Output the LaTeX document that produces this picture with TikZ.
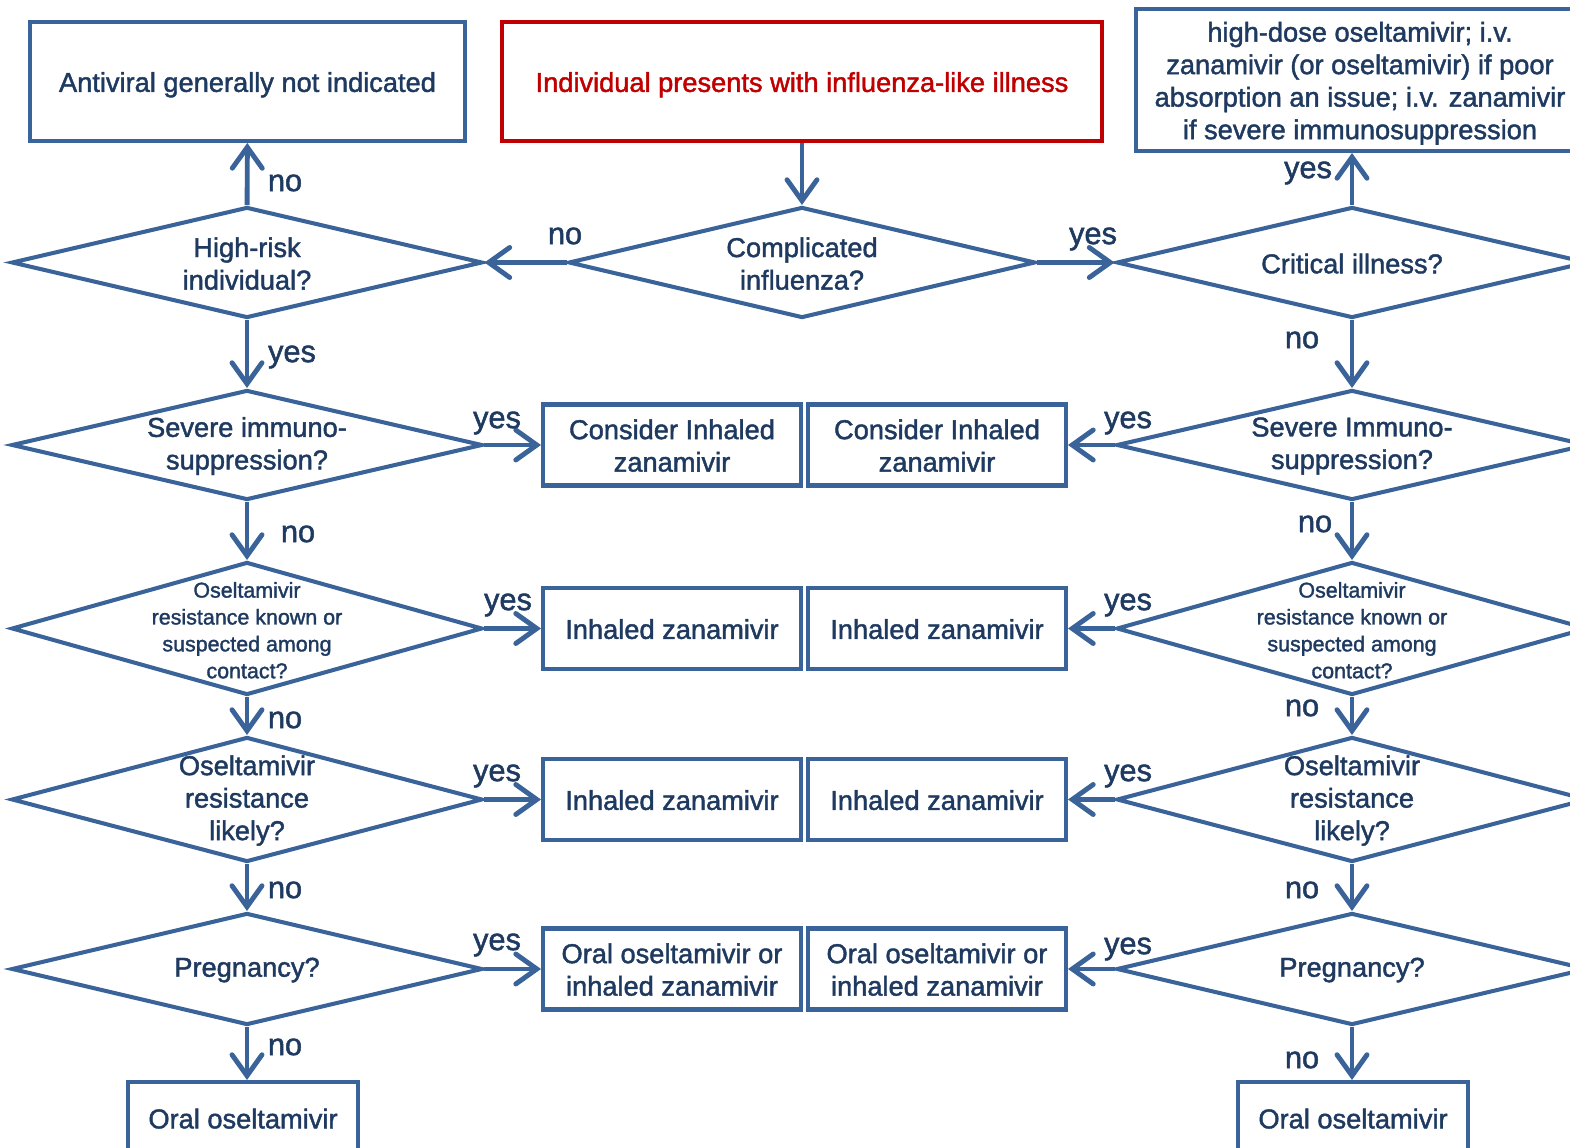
\documentclass[tikz,border=0pt]{standalone}
\usepackage{fontspec}
\setmainfont{Liberation Sans}[FakeBold=1.6]
\usetikzlibrary{shapes.geometric,arrows.meta}

\definecolor{flublue}{HTML}{3A6399}
\definecolor{flutext}{HTML}{1F3A60}
\definecolor{flured}{HTML}{C00000}

% box text sits a little low in its frame
\newcommand{\boxtext}[1]{\raisebox{-2.2pt}[\height][\depth]{\begin{tabular}{@{}c@{}}#1\end{tabular}}}

\begin{document}
\begin{tikzpicture}[
  x=0.02cm, y=-0.02cm,
  box/.style={rectangle, draw=flublue, line width=2.3pt, text=flutext, align=center, inner sep=0pt, font=\fontsize{15.5}{18.5}\selectfont},
  midbox/.style={box, minimum width=5.16cm, minimum height=1.62cm},
  qnode/.style={diamond, draw=flublue, line width=2.3pt, inner sep=0pt, minimum width=9.42cm},
  qtext/.style={text=flutext, align=center, yshift=-0.6pt, font=\fontsize{15.5}{18.5}\selectfont},
  qsmall/.style={text=flutext, align=center, yshift=-1pt, font=\fontsize{12.2}{15.3}\selectfont},
  arr/.style={draw=flublue, line width=2.8pt, -{Straight Barb[length=4.2mm,width=6mm,line cap=round]}},
  lbl/.style={text=flutext, inner sep=0pt, font=\fontsize{17.5}{20}\selectfont}
]
  \useasboundingbox (0,0) rectangle (1570,1148);

  % top row of boxes
  \node[box, minimum width=8.7cm, minimum height=2.38cm] (none) at (247.5,81.5) {\boxtext{Antiviral generally not indicated}};
  \node[box, draw=flured, text=flured, minimum width=12cm, minimum height=2.38cm] (start) at (802,81.5) {\boxtext{Individual presents with influenza-like illness}};
  \node[box, minimum width=8.96cm, minimum height=2.84cm] (severe) at (1360,80) {\boxtext{high-dose oseltamivir; i.v.\\zanamivir (or oseltamivir) if poor\\absorption an issue; i.v. zanamivir\\if severe immunosuppression}};

  % decisions, middle and left column
  \node[qnode, minimum width=9.34cm, minimum height=2.22cm] (cx) at (802,262.5) {};
  \node[qtext] (cxt) at (cx) {Complicated\\influenza?};
  \node[qnode, minimum height=2.22cm] (hr) at (247,262.5) {};
  \node[qtext] (hrt) at (hr) {High-risk\\individual?};
  \node[qnode, minimum height=2.2cm] (siL) at (247,445) {};
  \node[qtext] (siLt) at (siL) {Severe immuno-\\suppression?};
  \node[qnode, minimum height=2.66cm] (kwL) at (247,628.5) {};
  \node[qsmall] (kwLt) at (kwL) {Oseltamivir\\resistance known or\\suspected among\\contact?};
  \node[qnode, minimum height=2.5cm] (lkL) at (247,799.5) {};
  \node[qtext] (lkLt) at (lkL) {Oseltamivir\\resistance\\likely?};
  \node[qnode, minimum height=2.24cm] (pgL) at (247,969) {};
  \node[qtext] (pgLt) at (pgL) {Pregnancy?};

  % decisions, right column
  \node[qnode, minimum height=2.22cm] (ci) at (1352,262.5) {};
  \node[qtext] (cit) at (ci) {Critical illness?};
  \node[qnode, minimum height=2.2cm] (siR) at (1352,445) {};
  \node[qtext] (siRt) at (siR) {Severe Immuno-\\suppression?};
  \node[qnode, minimum height=2.66cm] (kwR) at (1352,628.5) {};
  \node[qsmall] (kwRt) at (kwR) {Oseltamivir\\resistance known or\\suspected among\\contact?};
  \node[qnode, minimum height=2.5cm] (lkR) at (1352,799.5) {};
  \node[qtext] (lkRt) at (lkR) {Oseltamivir\\resistance\\likely?};
  \node[qnode, minimum height=2.24cm] (pgR) at (1352,969) {};
  \node[qtext] (pgRt) at (pgR) {Pregnancy?};

  % treatment boxes in the middle, one pair per row
  \foreach \r/\y/\t in {1/445/{Consider Inhaled\\zanamivir},
                        2/628.5/{Inhaled zanamivir},
                        3/799.5/{Inhaled zanamivir},
                        4/969/{Oral oseltamivir or\\inhaled zanamivir}} {
    \node[midbox] (mL\r) at (672,\y) {\boxtext{\t}};
    \node[midbox] (mR\r) at (937,\y) {\boxtext{\t}};
  }

  % bottom boxes
  \node[box, minimum width=4.6cm, minimum height=1.44cm] (oralL) at (243,1118) {\boxtext{Oral oseltamivir}};
  \node[box, minimum width=4.6cm, minimum height=1.44cm] (oralR) at (1353,1118) {\boxtext{Oral oseltamivir}};

  % connectors
  \draw[arr] (start) -- (cx);
  \draw[arr] (cx) -- (hr);
  \draw[arr] (cx) -- (ci);
  \draw[arr] (hr) -- (none);
  \draw[arr] (ci.north) -- (ci.north |- severe.south);
  \draw[arr] (hr) -- (siL);
  \draw[arr] (siL) -- (kwL);
  \draw[arr] (kwL) -- (lkL);
  \draw[arr] (lkL) -- (pgL);
  \draw[arr] (pgL.south) -- (pgL.south |- oralL.north);
  \draw[arr] (ci) -- (siR);
  \draw[arr] (siR) -- (kwR);
  \draw[arr] (kwR) -- (lkR);
  \draw[arr] (lkR) -- (pgR);
  \draw[arr] (pgR.south) -- (pgR.south |- oralR.north);
  \draw[arr] (siL) -- (mL1);
  \draw[arr] (kwL) -- (mL2);
  \draw[arr] (lkL) -- (mL3);
  \draw[arr] (pgL) -- (mL4);
  \draw[arr] (siR) -- (mR1);
  \draw[arr] (kwR) -- (mR2);
  \draw[arr] (lkR) -- (mR3);
  \draw[arr] (pgR) -- (mR4);

  % yes / no labels
  \node[lbl] (n1) at (285,183) {no};
  \node[lbl] (n2) at (565,236) {no};
  \node[lbl] (y1) at (1093,239) {yes};
  \node[lbl] (y2) at (1308,173) {yes};
  \node[lbl] (y3) at (292,357) {yes};
  \node[lbl] (n3) at (1302,340) {no};
  \node[lbl] (y4) at (497,423) {yes};
  \node[lbl] (y5) at (1128,423) {yes};
  \node[lbl] (n4) at (298,534) {no};
  \node[lbl] (n5) at (1315,524) {no};
  \node[lbl] (y6) at (508,605) {yes};
  \node[lbl] (y7) at (1128,605) {yes};
  \node[lbl] (n6) at (285,720) {no};
  \node[lbl] (n7) at (1302,708) {no};
  \node[lbl] (y8) at (497,776) {yes};
  \node[lbl] (y9) at (1128,776) {yes};
  \node[lbl] (n8) at (285,890) {no};
  \node[lbl] (n9) at (1302,890) {no};
  \node[lbl] (y10) at (497,945) {yes};
  \node[lbl] (y11) at (1128,949) {yes};
  \node[lbl] (n10) at (285,1047) {no};
  \node[lbl] (n11) at (1302,1060) {no};
\end{tikzpicture}
\end{document}
